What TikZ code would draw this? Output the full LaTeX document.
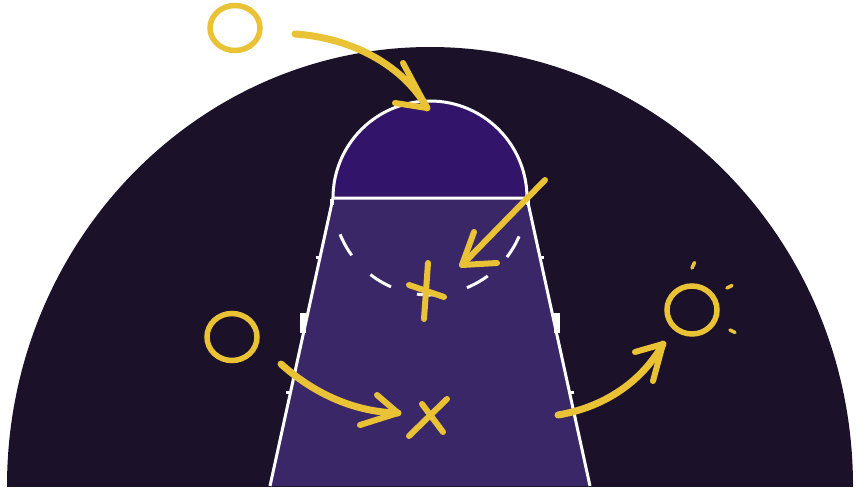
\documentclass[tikz,border=0pt]{standalone}
\definecolor{court}{HTML}{1B1229}
\definecolor{lane}{HTML}{3A2768}
\definecolor{ftc}{HTML}{32146A}
\definecolor{chalk}{HTML}{EAC235}
\tikzset{
  chalkline/.style={draw=chalk, line width=7pt, line cap=round, line join=round},
  chalkthin/.style={draw=chalk, line width=6pt, line cap=round, line join=round},
  chalkring/.style={draw=chalk, line width=5.5pt},
  chalkray/.style={draw=chalk, line width=3.5pt, line cap=round},
  courtline/.style={draw=white, line width=3pt},
  hashmark/.style={fill=white},
}
\begin{document}
\begin{tikzpicture}[x=1pt,y=-1pt]
\useasboundingbox (0,0) rectangle (859,492);
% big court shape
\begin{scope}
\clip (0,0) rectangle (859,486);
\fill[court] (430,486) ellipse [x radius=423, y radius=439];
\end{scope}
% lane
\coordinate (lTL) at (333,198);
\coordinate (lTR) at (527,198);
\coordinate (lBR) at (590,486);
\coordinate (lBL) at (270,486);
\fill[lane] (lTL) -- (lTR) -- (lBR) -- (lBL) -- cycle;
% free-throw semicircle
\fill[ftc] (333,198) arc[start angle=180, end angle=360, radius=97] -- cycle;
% hash marks
\fill[hashmark] (316,255.5) rectangle (321,258.5);
\fill[hashmark] (300,313) rectangle (306,333);
\fill[hashmark] (286,390.5) rectangle (291,393.5);
\fill[hashmark] (539,255.5) rectangle (544,258.5);
\fill[hashmark] (554,313) rectangle (560,333);
\fill[hashmark] (569,390.5) rectangle (574,393.5);
\fill[hashmark] (330,199) rectangle (334,205);
\fill[hashmark] (526,199) rectangle (530,205);
% lines
\draw[courtline] (lBL) -- (lTL) -- (lTR) -- (lBR);
\draw[courtline] (333,198) arc[start angle=180, end angle=360, radius=97];
\draw[courtline, dash pattern=on 24pt off 27pt] (430,198) ++(158:97) arc[start angle=158, end angle=22, radius=97];
% players (O)
\draw[chalkring] (235,28) ellipse [x radius=25, y radius=22.5];
\draw[chalkring] (232,337) ellipse [x radius=25, y radius=23.5];
\draw[chalkring] (692,310) ellipse [x radius=25, y radius=24];
\draw[chalkray] (692,268) -- (694.5,262.5);
\draw[chalkray] (727,288) -- (732,285.5);
\draw[chalkray] (730,330) -- (735,332.5);
% arrow 1
\coordinate (a1s) at (295,34);
\coordinate (a1t) at (427,108);
\draw[chalkline] (a1s) .. controls (355,38) and (405,68) .. (a1t);
\draw[chalkthin] (403,63) -- (a1t) -- (395,103);
% arrow 2
\coordinate (a2s) at (545,180);
\coordinate (a2t) at (462,265);
\draw[chalkthin] (a2s) -- (a2t);
\draw[chalkthin] (474,232) -- (a2t) -- (497,263);
% arrow 3
\coordinate (a3s) at (281,364);
\coordinate (a3t) at (398,413);
\draw[chalkline] (a3s) .. controls (310,390) and (350,412) .. (a3t);
\draw[chalkthin] (377,395) -- (a3t) -- (360,425);
% arrow 4
\coordinate (a4s) at (558,415);
\coordinate (a4t) at (663,344);
\draw[chalkline] (a4s) .. controls (600,408) and (640,385) .. (a4t);
\draw[chalkthin] (635,352) -- (a4t) -- (653,381);
% X marks
\draw[chalkthin] (428,263) -- (424,319);
\draw[chalkthin] (409,285) -- (444,297);
\draw[chalkthin] (422,404) -- (443,432);
\draw[chalkthin] (447,399) -- (409,436);
\end{tikzpicture}
\end{document}
